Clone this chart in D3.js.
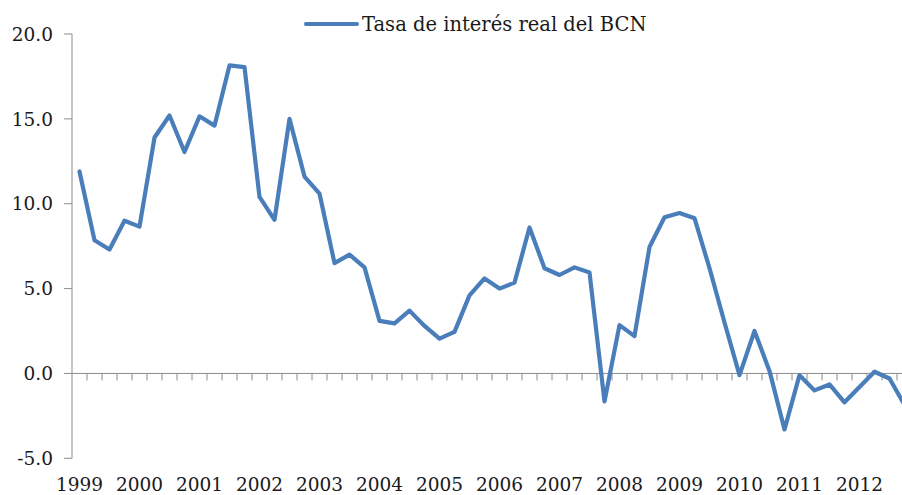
<!DOCTYPE html>
<html>
<head>
<meta charset="utf-8">
<script src="https://cdn.jsdelivr.net/npm/d3@7"></script>
<style>
  body { margin: 0; background: #fff; }
  svg { display: block; }
  text { font-family: "DejaVu Serif", serif; fill: #1a1a1a; }
</style>
</head>
<body>
<script>
const years = d3.range(1999, 2013);
const quarters = years.flatMap(y => [1, 2, 3, 4].map(q => `${y}T${q}`));

// Tasa de interés real del BCN, trimestral
const rates = [
  11.9, 7.85, 7.3, 9.0,
  8.65, 13.9, 15.2, 13.05,
  15.15, 14.6, 18.15, 18.05,
  10.4, 9.05, 15.0, 11.6,
  10.6, 6.5, 7.0, 6.25,
  3.1, 2.95, 3.7, 2.8,
  2.05, 2.45, 4.6, 5.6,
  5.0, 5.35, 8.6, 6.2,
  5.8, 6.25, 5.95, -1.65,
  2.85, 2.2, 7.45, 9.2,
  9.45, 9.15, 6.2, 3.0,
  -0.1, 2.5, 0.15, -3.3,
  -0.1, -1.0, -0.65, -1.7,
  -0.8, 0.1, -0.3, -1.85
];

const yTicks = [-5, 0, 5, 10, 15, 20];
const seriesName = 'Tasa de interés real del BCN';

const width = 902;
const height = 495;

const svg = d3.select('body')
  .append('svg')
  .attr('width', width)
  .attr('height', height);

const x = d3.scaleBand()
  .domain(quarters)
  .range([72, 912])
  .padding(0);

const y = d3.scaleLinear()
  .domain([-5, 20])
  .range([458.3, 34]);

const axisColor = '#8c8c8c';

// eje y
svg.append('line')
  .attr('x1', 72).attr('x2', 72)
  .attr('y1', y(20)).attr('y2', y(-5))
  .attr('stroke', axisColor);

svg.selectAll('.ytick')
  .data(yTicks)
  .enter()
  .append('line')
  .attr('x1', 64).attr('x2', 72)
  .attr('y1', d => y(d)).attr('y2', d => y(d))
  .attr('stroke', axisColor);

svg.selectAll('.ylabel')
  .data(yTicks)
  .enter()
  .append('text')
  .attr('x', 53)
  .attr('y', d => y(d))
  .attr('dy', '0.36em')
  .attr('text-anchor', 'end')
  .style('font-size', '18.5px')
  .text(d => d.toFixed(1));

// eje x en cero
svg.append('line')
  .attr('x1', 72).attr('x2', width)
  .attr('y1', y(0)).attr('y2', y(0))
  .attr('stroke', axisColor);

svg.selectAll('.xtick')
  .data(quarters.slice(1))
  .enter()
  .append('line')
  .attr('x1', d => x(d)).attr('x2', d => x(d))
  .attr('y1', y(0)).attr('y2', y(0) + 7)
  .attr('stroke', axisColor);

svg.selectAll('.xlabel')
  .data(years)
  .enter()
  .append('text')
  .attr('x', d => x(`${d}T1`) + x.bandwidth() / 2)
  .attr('y', 491)
  .attr('text-anchor', 'middle')
  .style('font-size', '18.5px')
  .text(d => d);

// serie
const line = d3.line()
  .x((d, i) => x(quarters[i]) + x.bandwidth() / 2)
  .y(d => y(d));

svg.append('path')
  .datum(rates)
  .attr('fill', 'none')
  .attr('stroke', '#4a7ebb')
  .attr('stroke-width', 4.2)
  .attr('stroke-linejoin', 'round')
  .attr('stroke-linecap', 'round')
  .attr('d', line);

// leyenda
svg.append('line')
  .attr('x1', 306).attr('x2', 357)
  .attr('y1', 24).attr('y2', 24)
  .attr('stroke', '#4a7ebb')
  .attr('stroke-width', 4.2)
  .attr('stroke-linecap', 'round');

svg.append('text')
  .attr('x', 362)
  .attr('y', 31)
  .style('font-size', '19.5px')
  .text(seriesName);
</script>
</body>
</html>
